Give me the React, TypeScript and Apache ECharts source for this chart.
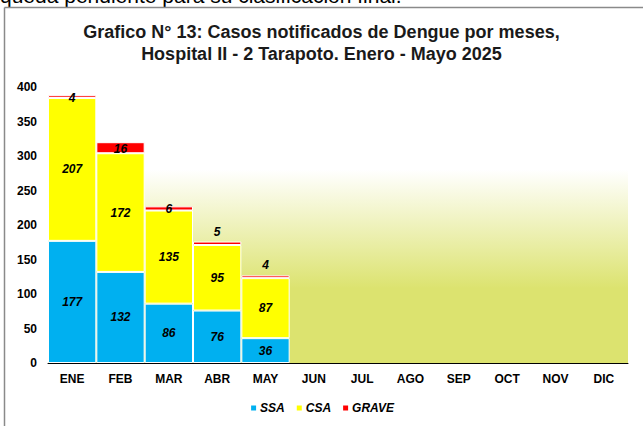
import React, { useEffect, useRef } from "react";
import * as echarts from "echarts";

const months = ["ENE", "FEB", "MAR", "ABR", "MAY", "JUN", "JUL", "AGO", "SEP", "OCT", "NOV", "DIC"];
const ssa = [177, 132, 86, 76, 36];
const csa = [207, 172, 135, 95, 87];
const grave = [4, 16, 6, 5, 4];
const yTicks = [0, 50, 100, 150, 200, 250, 300, 350, 400];

const FONT = "'Liberation Sans', Arial, sans-serif";

export default function App() {
  const ref = useRef<HTMLDivElement>(null);
  useEffect(() => {
    if (!ref.current) return;
    const chart = echarts.init(ref.current, null, { renderer: "svg" });
    const lbl = {
      show: true,
      color: "#000",
      fontWeight: "bold",
      fontStyle: "italic",
      fontSize: 12,
      fontFamily: FONT,
    };
    const graveData = grave.map((v, i) => ({
      value: v,
      label: i < 3 ? { position: "inside", offset: [0, 1] } : { position: "top", distance: 4 },
    }));
    chart.setOption({
      animation: false,
      backgroundColor: "#fff",
      textStyle: { fontFamily: FONT },
      graphic: [
        {
          type: "text",
          left: 0,
          top: -15,
          style: {
            text: "queda pendiente para su clasificación final.",
            fontSize: 21,
            fontFamily: FONT,
            fill: "#000",
          },
        },
        {
          type: "line",
          shape: { x1: 4.5, y1: 7.5, x2: 643, y2: 7.5 },
          style: { stroke: "#8a8a8a", lineWidth: 1.5 },
        },
        {
          type: "line",
          shape: { x1: 4.5, y1: 7.5, x2: 4.5, y2: 426 },
          style: { stroke: "#8a8a8a", lineWidth: 1.5 },
        },
      ],
      title: {
        text: "Grafico N° 13: Casos notificados de Dengue por meses,\nHospital II - 2 Tarapoto. Enero - Mayo 2025",
        left: "center",
        top: 16,
        textStyle: {
          fontSize: 18,
          fontWeight: "bold",
          fontFamily: FONT,
          color: "#1a1a1a",
          lineHeight: 22,
        },
      },
      legend: {
        bottom: 7,
        left: "center",
        itemWidth: 7,
        itemHeight: 7,
        itemGap: 10,
        icon: "rect",
        textStyle: { fontWeight: "bold", fontStyle: "italic", fontSize: 12, fontFamily: FONT, color: "#000", padding: [0, 0, 0, -2] },
        data: ["SSA", "CSA", "GRAVE"],
      },
      grid: {
        left: 48,
        right: 15,
        top: 87,
        bottom: 63,
        show: true,
        borderWidth: 0,
        backgroundColor: new echarts.graphic.LinearGradient(0, 0, 0, 1, [
          { offset: 0, color: "#ffffff" },
          { offset: 0.3, color: "#ffffff" },
          { offset: 0.73, color: "#dce36f" },
          { offset: 1, color: "#dce36f" },
        ]),
      },
      xAxis: {
        type: "category",
        data: months,
        axisLine: { lineStyle: { color: "#000", width: 1 } },
        axisTick: { show: false },
        axisLabel: { fontWeight: "bold", fontSize: 12, color: "#000", margin: 10, fontFamily: FONT },
      },
      yAxis: {
        type: "value",
        min: yTicks[0],
        max: yTicks[yTicks.length - 1],
        interval: 50,
        axisLine: { show: false },
        axisTick: { show: false },
        splitLine: { show: false },
        axisLabel: { fontWeight: "bold", fontSize: 12, color: "#000", margin: 11, fontFamily: FONT },
      },
      series: [
        {
          name: "SSA",
          type: "bar",
          stack: "t",
          barCategoryGap: "0%",
          data: ssa,
          itemStyle: { color: "#00b0f0", borderColor: "#ffffff", borderWidth: 1 },
          label: { ...lbl, position: "inside" },
        },
        {
          name: "CSA",
          type: "bar",
          stack: "t",
          barCategoryGap: "0%",
          data: csa,
          itemStyle: { color: "#ffff00", borderColor: "#ffffff", borderWidth: 1 },
          label: { ...lbl, position: "inside" },
        },
        {
          name: "GRAVE",
          type: "bar",
          stack: "t",
          barCategoryGap: "0%",
          data: graveData,
          itemStyle: { color: "#ff0000", borderColor: "#ffffff", borderWidth: 1 },
          label: { ...lbl },
        },
      ],
    });
    return () => chart.dispose();
  }, []);
  return <div ref={ref} style={{ width: 643, height: 426, position: "fixed", left: 0, top: 0 }} />;
}
